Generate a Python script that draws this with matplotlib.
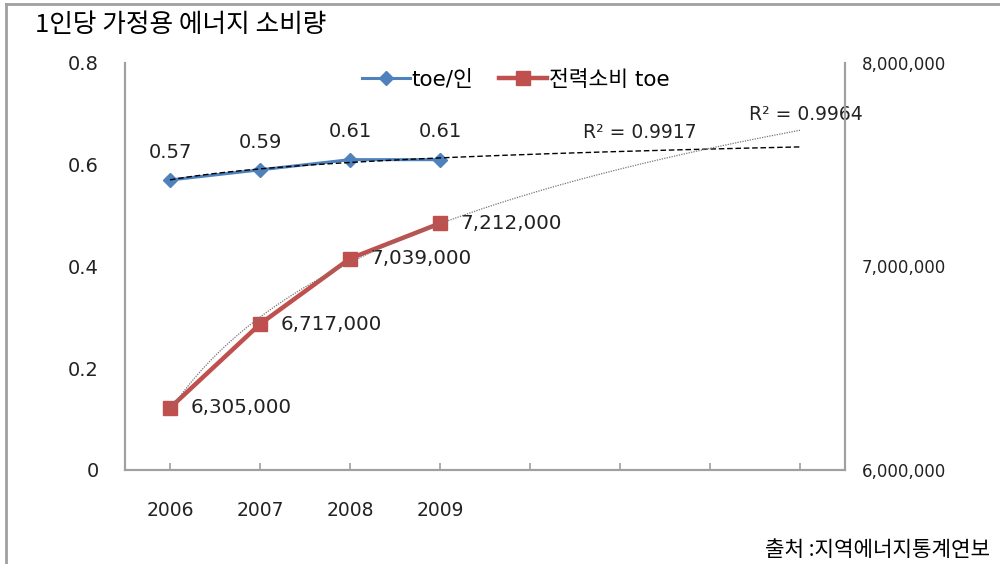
import numpy as np
import matplotlib
matplotlib.use("Agg")
import matplotlib.pyplot as plt
from matplotlib.lines import Line2D
from matplotlib.ticker import FuncFormatter

plt.rcParams['font.family'] = ['DejaVu Sans', 'Noto Sans CJK KR']

# data
years = ['2006', '2007', '2008', '2009', '', '', '', '']
toe_per_person = [0.57, 0.59, 0.61, 0.61]
power_toe = [6305000, 6717000, 7039000, 7212000]
r2_toe = 'R² = 0.9917'
r2_power = 'R² = 0.9964'

blue = '#4F81BD'
red = '#C0504D'
axis_gray = '#a0a0a0'
txt = '#222222'

fig = plt.figure(figsize=(10, 5.64), dpi=100)
ax = fig.add_axes([0.125, 0.1667, 0.72, 0.7216])
ax2 = ax.twinx()

x = np.arange(len(toe_per_person))
ax.set_xlim(-0.5, len(years) - 0.5)
ax.set_ylim(0, 0.8)
ax2.set_ylim(6000000, 8000000)

# data lines
l1, = ax.plot(x, toe_per_person, color=blue, lw=2.2, marker='D', ms=7,
              mfc=blue, mec=blue, zorder=3, label='toe/인')
l2, = ax2.plot(x, power_toe, color=red, lw=3.2, marker='s', ms=10,
               mfc=red, mec=red, zorder=3, label='전력소비 toe')

# logarithmic trend lines (like Excel), extended over all categories
xf = np.linspace(1, len(years), 200)
a, b = np.polyfit(np.log(x + 1), toe_per_person, 1)
ax.plot(xf - 1, a * np.log(xf) + b, color='black', lw=1, ls=(0, (4, 2)), zorder=4)
a2, b2 = np.polyfit(np.log(x + 1), power_toe, 1)
ax2.plot(xf - 1, a2 * np.log(xf) + b2, color='#777777', lw=0.9, ls=(0, (1, 1)), zorder=4)

# data labels
for xi, v in zip(x, toe_per_person):
    ax.annotate(f'{v:.2f}', (xi, v), xytext=(0, 20), textcoords='offset points',
                ha='center', va='center', fontsize=14, color=txt)
for xi, v in zip(x, power_toe):
    ax2.annotate(f'{v:,}', (xi, v), xytext=(15, 0), textcoords='offset points',
                 ha='left', va='center', fontsize=14.3, color=txt)

ax.text(5.22, 0.664, r2_toe, ha='center', va='center', fontsize=13.5, color=txt)
ax.text(7.07, 0.6995, r2_power, ha='center', va='center', fontsize=13.5,
        color=txt, clip_on=False)

# axes styling
ax.set_xticks(np.arange(len(years)))
ax.set_xticklabels(years, fontsize=13.5, color=txt)
ax.set_yticks([0, 0.2, 0.4, 0.6, 0.8])
ax.set_yticklabels(['0', '0.2', '0.4', '0.6', '0.8'], fontsize=14, color=txt)
ax.tick_params(axis='x', direction='in', length=5, width=1.2, color=axis_gray, pad=22)
ax.tick_params(axis='y', length=0, pad=19)
ax2.set_yticks([6000000, 7000000, 8000000])
ax2.yaxis.set_major_formatter(FuncFormatter(lambda v, p: f'{int(v):,}'))
ax2.tick_params(axis='y', length=0, pad=12, labelsize=12, labelcolor=txt)

for a_ in (ax, ax2):
    a_.spines['top'].set_visible(False)
    for s in ('left', 'right', 'bottom'):
        a_.spines[s].set_color(axis_gray)
        a_.spines[s].set_linewidth(1.5)

# legend
ax.legend(handles=[l1, l2], loc='upper center', bbox_to_anchor=(0.543, 1.01),
          ncol=2, frameon=False, fontsize=15.5, handlelength=2.2, columnspacing=1.2,
          handletextpad=0.1, borderaxespad=0.1)

# title and source
fig.text(0.035, 0.955, '1인당 가정용 에너지 소비량', fontsize=18.5, ha='left', va='center',
         family=['Noto Sans CJK KR', 'DejaVu Sans'])
fig.text(0.99, 0.025, '출처 :지역에너지통계연보', fontsize=15.3, ha='right', va='center',
         family=['Noto Sans CJK KR', 'DejaVu Sans'])

# outer frame (top and left edges)
fig.add_artist(Line2D([0.006, 0.006], [0, 0.993], transform=fig.transFigure,
                      color=axis_gray, lw=2))
fig.add_artist(Line2D([0.006, 1], [0.993, 0.993], transform=fig.transFigure,
                      color=axis_gray, lw=2))

fig.savefig('out.png', dpi=100)
